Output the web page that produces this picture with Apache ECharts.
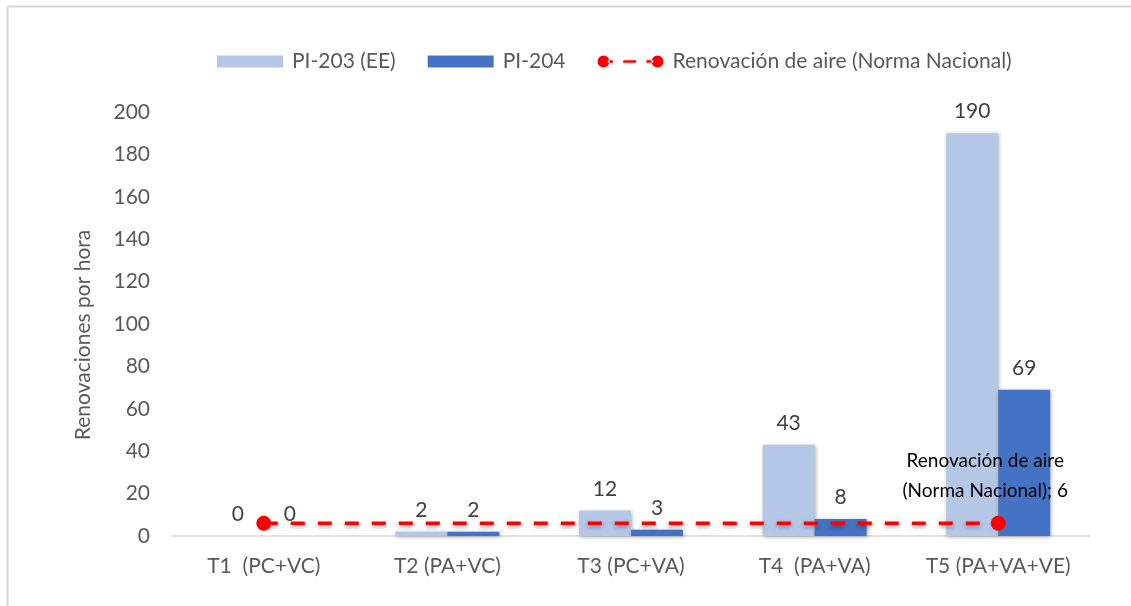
<!DOCTYPE html>
<html>
<head>
<meta charset="utf-8">
<script src="https://cdn.jsdelivr.net/npm/echarts@6/dist/echarts.min.js"></script>
<style>
  html, body { margin: 0; padding: 0; background: #fff; }
  #chart { width: 1131px; height: 606px; }
</style>
</head>
<body>
<div id="chart"></div>
<script>
const categories = ['T1  (PC+VC)', 'T2 (PA+VC)', 'T3 (PC+VA)', 'T4  (PA+VA)', 'T5 (PA+VA+VE)']
const pi203 = [0, 2, 12, 43, 190]
const pi204 = [0, 2, 3, 8, 69]
const normaNacional = [6, 6, 6, 6, 6]
const yTicks = { min: 0, max: 200, interval: 20 }

const font = 'Lato, "Open Sans", sans-serif'
const grey = '#595959'
const last = normaNacional.length - 1

// dot - dash - dot legend icon, like the original
const lineIcon = 'path://M0,7a7,7 0 1,0 14,0a7,7 0 1,0 -14,0z' +
  'M12,5.5h6v3h-6z M30,5.5h15v3h-15z M57,5.5h8v3h-8z' +
  'M63,7a7,7 0 1,0 14,0a7,7 0 1,0 -14,0z'

const chart = echarts.init(document.getElementById('chart'))

chart.setOption({
  backgroundColor: '#ffffff',
  textStyle: { fontFamily: font },
  graphic: [
    { type: 'line', shape: { x1: 7.5, y1: 6.5, x2: 1131, y2: 6.5 }, style: { stroke: '#d9d9d9', lineWidth: 2 } },
    { type: 'line', shape: { x1: 7.5, y1: 6.5, x2: 7.5, y2: 606 }, style: { stroke: '#d9d9d9', lineWidth: 2 } }
  ],
  legend: {
    top: 46,
    left: 212,
    itemGap: 32,
    itemHeight: 12,
    itemWidth: 66,
    textStyle: { fontFamily: font, fontSize: 21, color: grey, padding: [0, 0, 0, 4] },
    data: [
      { name: 'PI-203 (EE)', icon: 'rect' },
      { name: 'PI-204', icon: 'rect' },
      { name: 'Renovación de aire (Norma Nacional)', icon: lineIcon }
    ]
  },
  grid: {
    left: 172,
    right: 41,
    top: 112,
    bottom: 70
  },
  xAxis: {
    type: 'category',
    data: categories,
    axisTick: { show: false },
    axisLine: { lineStyle: { color: '#d9d9d9', width: 1.5 } },
    axisLabel: { interval: 0, hideOverlap: false, margin: 20, fontSize: 21, color: grey, fontFamily: font }
  },
  yAxis: {
    type: 'value',
    min: yTicks.min,
    max: yTicks.max,
    interval: yTicks.interval,
    name: 'Renovaciones por hora',
    nameLocation: 'middle',
    nameGap: 78,
    nameTextStyle: { fontSize: 21, color: grey, fontFamily: font, padding: [0, 22, 0, 0] },
    axisLine: { show: false },
    axisTick: { show: false },
    splitLine: { show: false },
    axisLabel: { margin: 22, fontSize: 21, color: grey, fontFamily: font }
  },
  series: [
    {
      name: 'PI-203 (EE)',
      type: 'bar',
      data: pi203,
      barWidth: 52,
      barGap: '0%',
      itemStyle: {
        color: '#b4c7e7',
        shadowBlur: 4,
        shadowColor: 'rgba(0,0,0,0.3)',
        shadowOffsetX: 1,
        shadowOffsetY: 1
      },
      label: { show: true, position: 'top', distance: 11, fontSize: 21, color: '#404040', fontFamily: font }
    },
    {
      name: 'PI-204',
      type: 'bar',
      data: pi204,
      barWidth: 52,
      barGap: '0%',
      itemStyle: {
        color: '#4472c4',
        shadowBlur: 4,
        shadowColor: 'rgba(0,0,0,0.3)',
        shadowOffsetX: 1,
        shadowOffsetY: 1
      },
      label: { show: true, position: 'top', distance: 11, fontSize: 21, color: '#404040', fontFamily: font }
    },
    {
      name: 'Renovación de aire (Norma Nacional)',
      type: 'line',
      z: 5,
      data: normaNacional.map((v, i) => ({
        value: v,
        symbol: (i === 0 || i === last) ? 'circle' : 'none',
        label: i === last ? {
          show: true,
          position: 'top',
          distance: 10,
          offset: [-13, 0],
          formatter: 'Renovación de aire\n(Norma Nacional); {c}',
          fontSize: 19,
          lineHeight: 30,
          color: '#000',
          fontFamily: font
        } : { show: false }
      })),
      symbolSize: 15,
      showAllSymbol: true,
      color: '#ff0000',
      itemStyle: { color: '#ff0000' },
      lineStyle: {
        color: '#ff0000',
        width: 3.5,
        type: [14, 13],
        shadowBlur: 4,
        shadowColor: 'rgba(0,0,0,0.35)',
        shadowOffsetY: 2
      }
    }
  ]
})
</script>
</body>
</html>
